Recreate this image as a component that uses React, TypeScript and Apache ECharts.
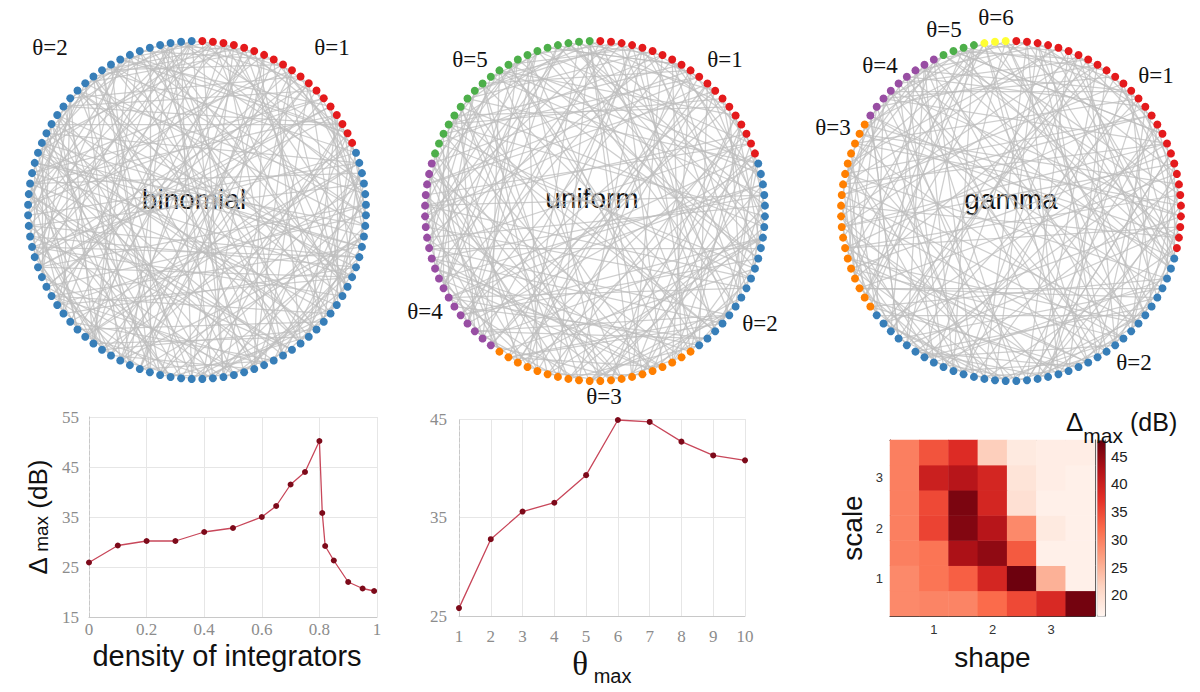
import React, { useEffect, useRef } from 'react';
import * as echarts from 'echarts';

// ---------------- data ----------------
const NODE_COUNT = 100;
const groupColors: Record<number, string> = {
  1: '#e41a1c', 2: '#377eb8', 3: '#ff7f00', 4: '#984ea3', 5: '#4daf4a', 6: '#ffff33',
};
// [theta group, node count], clockwise starting at the top of each circle
const binomialGroups = [[1, 19], [2, 81]];
const uniformGroups = [[1, 20], [2, 20], [3, 20], [4, 20], [5, 20]];
const gammaGroups = [[1, 29], [2, 36], [3, 19], [4, 9], [5, 4], [6, 3]];

// links as flat pairs of node positions (clockwise from top)
const binomialEdges = [
  0,47, 1,63, 2,28, 3,81, 4,55, 5,36, 6,72, 7,19, 8,90, 9,44, 10,67, 11,33, 12,85, 13,58, 14,26, 15,77, 16,49, 17,92, 18,61, 19,38,
  20,74, 21,53, 22,96, 23,41, 24,69, 25,12, 26,88, 27,57, 28,79, 29,45, 30,64, 31,87, 32,3, 33,71, 34,50, 35,94, 36,18, 37,82, 38,60, 39,7,
  40,76, 41,95, 42,21, 43,66, 44,89, 45,30, 46,73, 47,9, 48,84, 49,35, 50,98, 51,16, 52,78, 53,6, 54,91, 55,27, 56,83, 57,2, 58,70, 59,37,
  60,93, 61,11, 62,80, 63,42, 64,97, 65,24, 66,5, 67,48, 68,86, 69,31, 70,14, 71,99, 72,40, 73,22, 74,59, 75,8, 76,52, 77,34, 78,13, 79,62,
  80,1, 81,46, 82,20, 83,68, 84,29, 85,54, 86,10, 87,39, 88,75, 89,4, 90,51, 91,25, 92,65, 93,17, 94,43, 95,0, 96,32, 97,56, 98,23, 99,60,
  0,22, 3,50, 5,88, 8,33, 11,59, 14,92, 17,44, 20,61, 23,87, 26,48, 29,73, 32,95, 35,66, 38,15, 41,80, 44,6, 47,71, 50,27, 53,90, 56,12,
  59,84, 62,36, 65,99, 68,45, 71,19, 74,93, 77,58, 80,28, 83,49, 86,64, 89,38, 92,70, 95,54, 98,76, 2,41, 9,67, 16,83, 24,52, 31,78, 39,96,
  46,89, 55,9, 63,20, 72,30, 79,43, 88,57, 97,69, 4,34, 13,75, 21,47, 37,91, 51,81, 58,4, 67,25, 76,42, 85,16, 94,60, 7,55, 18,98, 28,66,
  43,11, 60,86, 70,2, 82,53, 91,32, 99,74, 34,15, 48,97, 57,18, 73,1,
  0,9, 2,13, 4,17, 6,11, 8,21, 10,24, 12,19, 14,31, 16,27, 18,25, 20,33, 22,35, 24,30, 26,39, 28,42, 30,37, 32,46, 34,41, 36,49, 38,52,
  40,47, 42,55, 44,58, 46,53, 48,61, 50,57, 52,66, 54,63, 56,69, 58,65, 60,74, 62,71, 64,77, 66,73, 68,81, 70,79, 72,85, 74,83, 76,89, 78,87,
  80,93, 82,91, 84,97, 86,95, 88,99, 90,3, 92,1, 94,7, 96,5, 98,11, 1,36, 5,62, 9,78, 15,69, 19,90, 25,93, 27,81, 33,87, 39,84, 45,96,
  49,6, 53,17, 59,22, 61,3, 65,31, 69,14, 75,40, 79,26, 83,30, 87,50, 93,44, 97,41, 11,70, 21,77, 35,80, 47,99, 57,8, 71,29, 81,37, 89,56,
];
const uniformEdges = [
  3,58, 7,41, 12,77, 15,90, 19,52, 22,66, 25,8, 28,71, 31,94, 34,47, 37,83, 40,16, 43,69, 46,99, 49,24, 52,85, 55,11, 58,36, 61,92, 64,29,
  67,5, 70,44, 73,97, 76,18, 79,53, 82,31, 85,62, 88,9, 91,40, 94,73, 97,26, 0,63, 2,35, 5,86, 9,57, 13,30, 17,75, 21,98, 26,50, 30,81,
  33,14, 38,65, 42,93, 45,20, 48,79, 51,4, 54,88, 57,27, 60,13, 63,96, 66,39, 69,2, 72,48, 75,23, 78,59, 81,6, 84,37, 87,68, 90,21, 93,55,
  96,12, 99,45, 1,74, 4,28, 8,95, 11,60, 14,84, 18,42, 23,89, 27,64, 32,7, 36,70, 39,91, 44,17, 47,76, 50,33, 53,99, 56,19, 59,80, 62,38,
  65,1, 68,22, 71,87, 74,43, 77,10, 80,61, 83,25, 86,49, 89,3, 92,67, 95,34, 98,56, 6,46, 10,82, 16,54, 20,36, 24,72, 29,92, 35,58, 41,78,
  46,15, 55,81, 61,27, 67,94, 73,32, 79,9, 88,51, 94,18, 2,87, 11,39, 19,66, 28,97, 37,3, 44,86, 52,25, 60,90, 69,40, 76,56, 83,13, 90,47,
  97,71, 5,33, 14,62, 22,50, 31,75, 40,4, 49,93, 58,17, 66,83, 74,11, 82,44, 89,69, 96,30, 7,64, 26,85, 43,2, 63,20, 84,57, 12,48, 34,99,
  53,8, 71,35, 92,77,
  1,10, 3,16, 5,12, 7,22, 9,18, 11,26, 13,20, 15,28, 17,24, 19,34, 21,30, 23,36, 25,32, 27,42, 29,38, 31,44, 33,40, 35,50, 37,46, 39,52,
  41,48, 43,58, 45,54, 47,60, 49,56, 51,66, 53,62, 55,68, 57,64, 59,74, 61,70, 63,76, 65,72, 67,82, 69,78, 71,84, 73,80, 75,90, 77,86, 79,92,
  81,88, 83,98, 85,94, 87,0, 89,96, 91,4, 93,2, 95,8, 97,6, 99,14, 0,37, 4,61, 8,83, 16,45, 18,71, 24,97, 30,59, 36,88, 42,9, 48,15,
  54,27, 62,35, 68,44, 72,6, 78,52, 86,20, 94,63, 98,39, 10,57, 20,91, 32,66, 50,85, 56,3, 64,12, 70,23, 80,47, 90,29, 96,67,
];
const gammaEdges = [
  1,52, 4,77, 6,33, 9,68, 12,90, 15,41, 18,63, 21,99, 24,47, 27,82, 30,5, 33,58, 36,91, 39,14, 42,70, 45,23, 48,86, 51,2, 54,79, 57,31,
  60,96, 63,8, 66,44, 69,19, 72,55, 75,27, 78,93, 81,38, 84,61, 87,12, 90,49, 93,24, 96,72, 99,35, 0,66, 3,29, 7,88, 10,54, 13,81, 16,37,
  20,73, 23,95, 26,60, 29,11, 32,84, 35,50, 38,76, 41,3, 44,97, 47,21, 50,69, 53,16, 56,89, 59,34, 62,7, 65,43, 68,92, 71,26, 74,57, 77,18,
  80,46, 83,1, 86,64, 89,30, 92,53, 95,9, 98,78, 2,40, 5,62, 8,85, 11,46, 14,71, 17,94, 22,56, 25,83, 28,4, 31,65, 34,98, 37,20, 40,87,
  43,59, 46,13, 49,74, 52,28, 55,91, 58,39, 61,6, 64,80, 67,32, 70,97, 73,45, 76,15, 79,51, 82,22, 85,68, 88,36, 91,60, 94,17, 97,42, 19,48,
  27,93, 36,70, 45,1, 57,88, 63,25, 75,40, 86,10, 99,58, 12,34, 24,81, 33,67, 42,89, 54,6, 66,97, 78,31, 90,62, 3,57, 15,78, 30,92, 48,19,
  61,84, 73,8, 87,50, 9,44, 21,67, 39,95, 56,12, 69,38, 84,29, 96,55, 6,74, 18,86, 35,2, 51,63, 68,79,
  0,11, 2,15, 4,9, 6,19, 8,17, 10,23, 12,21, 14,27, 16,25, 18,31, 20,29, 22,35, 24,33, 26,39, 28,37, 30,43, 32,41, 34,47, 36,45, 38,51,
  40,49, 42,55, 44,53, 46,59, 48,57, 50,63, 52,61, 54,67, 56,65, 58,71, 60,69, 62,75, 64,73, 66,79, 68,77, 70,83, 72,81, 74,87, 76,85, 78,91,
  80,89, 82,95, 84,93, 86,99, 88,97, 90,3, 92,1, 94,7, 96,5, 98,13, 1,30, 5,48, 11,76, 17,58, 23,71, 29,94, 35,64, 41,92, 47,8, 53,85,
  59,20, 65,96, 71,42, 77,36, 83,52, 89,14, 95,66, 7,39, 13,60, 25,87, 37,99, 49,16, 61,32, 73,18, 79,4, 91,45, 97,28,
];

// density of integrators panel
const densityX = [0, 0.1, 0.2, 0.3, 0.4, 0.5, 0.6, 0.65, 0.7, 0.75, 0.8, 0.81, 0.82, 0.85, 0.9, 0.95, 0.99];
const densityDelta = [25.9, 29.3, 30.2, 30.2, 32.0, 32.8, 35.0, 37.2, 41.5, 44.0, 50.2, 35.8, 29.2, 26.3, 22.0, 20.7, 20.2];

// theta max panel
const thetaMaxX = [1, 2, 3, 4, 5, 6, 7, 8, 9, 10];
const thetaMaxDelta = [25.8, 32.8, 35.6, 36.5, 39.3, 44.9, 44.7, 42.7, 41.3, 40.8];

// gamma heatmap (rows: scale from bottom, columns: shape)
const shapeCats = ['0.5', '1', '1.5', '2', '2.5', '3', '3.5'];
const scaleCats = ['0.5', '1', '1.5', '2', '2.5', '3', '3.5'];
const heatRows = [
  [29, 29.5, 29.5, 32, 35, 38.5, 47],
  [29, 31, 33, 39, 47.5, 25, 17],
  [30, 31, 43, 45, 33.5, 17, 17],
  [30, 35.5, 46, 42, 29, 18, 17],
  [30, 35, 46.5, 39, 19.5, 17, 17],
  [30, 40, 42, 39, 19, 17.5, 17],
  [30, 34, 38, 22, 18, 17.5, 17.5],
];
const colorbarMin = 16.2;
const colorbarMax = 47.9;
const redsScale = ['#fff5f0', '#fdd4c2', '#fca082', '#fb6a4a', '#e32f27', '#b11218', '#67000d'];

// ---------------- helpers ----------------
function buildGraph(groups: number[][], edges: number[]) {
  const seq: number[] = [];
  groups.forEach(([g, n]) => { for (let j = 0; j < n; j++) seq.push(g); });
  // ECharts' circular layout starts at 3 o'clock; position 0 (top) is node index 75
  const toIndex = (k: number) => (k + 75) % NODE_COUNT;
  const nodes: any[] = [];
  for (let i = 0; i < NODE_COUNT; i++) {
    const k = (i + 25) % NODE_COUNT;
    nodes.push({ name: 'n' + i, itemStyle: { color: groupColors[seq[k]] } });
  }
  const links: any[] = [];
  for (let e = 0; e < edges.length; e += 2) {
    links.push({ source: 'n' + toIndex(edges[e]), target: 'n' + toIndex(edges[e + 1]) });
  }
  return { nodes, links };
}

const SANS = '"Liberation Sans", Arial, Helvetica, sans-serif';
const SERIF = '"Liberation Serif", "Times New Roman", serif';

function graphSeries(groups: number[][], edges: number[], box: { left: number; top: number; size: number }) {
  const { nodes, links } = buildGraph(groups, edges);
  return {
    type: 'graph',
    layout: 'circular',
    left: box.left, top: box.top, width: box.size, height: box.size,
    roam: false, silent: true,
    symbol: 'circle', symbolSize: 8,
    data: nodes, links,
    label: { show: false },
    lineStyle: { color: '#bdbdbd', width: 1.25, opacity: 0.75, curveness: 0 },
    emphasis: { disabled: true },
  };
}

const textEl = (text: string, x: number, y: number, size: number, family: string) => ({
  type: 'text', x, y, silent: true,
  style: { text, fontSize: size, fontFamily: family, fill: '#111', align: 'center', verticalAlign: 'middle' },
});

export default function App() {
  const ref = useRef<HTMLDivElement>(null);
  useEffect(() => {
    document.body.style.margin = '0';
    const chart = echarts.init(ref.current!, null, { renderer: 'svg' });

    const heatData: number[][] = [];
    heatRows.forEach((row, yi) => row.forEach((v, xi) => heatData.push([xi, yi, v])));

    const tickLabel = { fontFamily: SERIF, fontSize: 17, color: '#8c8c8c' };
    const integerOnly = (v: string) => (['1', '2', '3'].includes(v) ? v : '');

    const option: any = {
      animation: false,
      backgroundColor: '#ffffff',
      title: [{
        text: '{a|Δ}{b|max}{c| (dB)}{z| }',
        left: 1066, top: 409, padding: 0,
        textStyle: {
          fontWeight: 'normal',
          rich: {
            a: { fontFamily: SANS, fontSize: 26, lineHeight: 26, verticalAlign: 'top', color: '#111', fontWeight: 'normal' },
            b: { fontFamily: SANS, fontSize: 21, lineHeight: 21, verticalAlign: 'bottom', color: '#111', fontWeight: 'normal' },
            c: { fontFamily: SANS, fontSize: 25, lineHeight: 26, verticalAlign: 'top', color: '#111', fontWeight: 'normal' },
            z: { fontSize: 1, lineHeight: 37 },
          },
        },
      }],
      graphic: [
        textEl('binomial', 194, 199, 28, SANS),
        textEl('uniform', 592, 198, 28, SANS),
        textEl('gamma', 1011, 199, 28, SANS),
        textEl('θ=2', 50, 47, 23, SERIF),
        textEl('θ=1', 332, 47, 23, SERIF),
        textEl('θ=5', 470, 59, 23, SERIF),
        textEl('θ=1', 725, 59, 23, SERIF),
        textEl('θ=4', 425, 311, 23, SERIF),
        textEl('θ=2', 760, 323, 23, SERIF),
        textEl('θ=3', 604, 396, 23, SERIF),
        textEl('θ=6', 996, 17, 23, SERIF),
        textEl('θ=5', 944, 29, 23, SERIF),
        textEl('θ=4', 880, 65, 23, SERIF),
        textEl('θ=3', 833, 127, 23, SERIF),
        textEl('θ=1', 1156, 75, 23, SERIF),
        textEl('θ=2', 1134, 362, 23, SERIF),
      ],
      grid: [
        { left: 89, top: 417, width: 288, height: 200 },
        { left: 459, top: 419, width: 286, height: 197 },
        { left: 890, top: 440, width: 205, height: 176 },
      ],
      xAxis: [
        {
          gridIndex: 0, type: 'value', min: 0, max: 1, interval: 0.2,
          axisLine: { lineStyle: { color: '#c8c8c8' } }, axisTick: { show: false },
          axisLabel: { ...tickLabel, margin: 4 },
          splitLine: { lineStyle: { color: '#e6e6e6' } },
          name: 'density of integrators', nameLocation: 'middle', nameGap: 24,
          nameTextStyle: { fontFamily: SANS, fontSize: 29, color: '#111', padding: [0, 12, 0, 0] },
        },
        {
          gridIndex: 1, type: 'value', min: 1, max: 10, interval: 1,
          axisLine: { lineStyle: { color: '#c8c8c8' } }, axisTick: { show: false },
          axisLabel: { ...tickLabel, margin: 12 },
          splitLine: { lineStyle: { color: '#e6e6e6' } },
          name: '{t|θ}{s| max}{z| }', nameLocation: 'middle', nameGap: 31,
          nameTextStyle: {
            rich: {
              t: { fontFamily: SERIF, fontSize: 33, lineHeight: 32, verticalAlign: 'top', color: '#111' },
              s: { fontFamily: SANS, fontSize: 20, lineHeight: 20, verticalAlign: 'bottom', color: '#111' },
              z: { fontSize: 1, lineHeight: 39 },
            },
          },
        },
        {
          gridIndex: 2, type: 'category', data: shapeCats,
          axisLine: { lineStyle: { color: '#333', width: 1 } },
          axisTick: { show: true, inside: true, length: 3, alignWithLabel: true, interval: (i: number) => i % 2 === 1, lineStyle: { color: '#333' } },
          axisLabel: { interval: 0, formatter: integerOnly, fontFamily: SANS, fontSize: 13, color: '#333', margin: 7 },
          splitLine: { show: false },
          name: 'shape', nameLocation: 'middle', nameGap: 27,
          nameTextStyle: { fontFamily: SANS, fontSize: 28, color: '#111' },
        },
        {
          gridIndex: 2, type: 'category', data: shapeCats, position: 'top',
          axisLine: { lineStyle: { color: '#333', width: 1 } }, axisTick: { show: false }, axisLabel: { show: false },
        },
      ],
      yAxis: [
        {
          gridIndex: 0, type: 'value', min: 15, max: 55, interval: 5,
          axisLine: { show: true, lineStyle: { color: '#c8c8c8', type: 'dashed' } }, axisTick: { show: false },
          axisLabel: { ...tickLabel, margin: 10, formatter: (v: number) => ((v - 15) % 10 === 0 ? String(v) : '') },
          splitLine: { show: true, lineStyle: { color: ['#e6e6e6', 'rgba(0,0,0,0)'] } },
          name: '{a|Δ}{b| max}{a| (dB)}', nameLocation: 'middle', nameGap: 38,
          nameTextStyle: {
            rich: {
              a: { fontFamily: SANS, fontSize: 26, lineHeight: 26, verticalAlign: 'bottom', color: '#111' },
              b: { fontFamily: SANS, fontSize: 19, lineHeight: 19, verticalAlign: 'bottom', color: '#111' },
            },
          },
        },
        {
          gridIndex: 1, type: 'value', min: 25, max: 45, interval: 5,
          axisLine: { show: true, lineStyle: { color: '#c8c8c8', type: 'dashed' } }, axisTick: { show: false },
          axisLabel: { ...tickLabel, margin: 12, formatter: (v: number) => ((v - 25) % 10 === 0 ? String(v) : '') },
          splitLine: { show: true, lineStyle: { color: ['#e6e6e6', 'rgba(0,0,0,0)'] } },
        },
        {
          gridIndex: 2, type: 'category', data: scaleCats,
          axisLine: { lineStyle: { color: '#333', width: 1 } },
          axisTick: { show: true, inside: true, length: 3, alignWithLabel: true, interval: (i: number) => i % 2 === 1, lineStyle: { color: '#333' } },
          axisLabel: { interval: 0, formatter: integerOnly, fontFamily: SANS, fontSize: 13, color: '#333', margin: 7 },
          splitLine: { show: false },
          name: 'scale', nameLocation: 'middle', nameGap: 24,
          nameTextStyle: { fontFamily: SANS, fontSize: 28, color: '#111' },
        },
        {
          gridIndex: 2, type: 'value', position: 'right', offset: 10,
          min: colorbarMin, max: colorbarMax,
          axisLine: { show: true, lineStyle: { color: '#555', width: 0.8 } },
          axisTick: { show: true, inside: true, length: 2, lineStyle: { color: '#555' } },
          axisLabel: { showMinLabel: false, showMaxLabel: false, fontFamily: SANS, fontSize: 15, color: '#222', margin: 6 },
          splitLine: { show: false },
        },
        {
          gridIndex: 2, type: 'category', data: scaleCats, position: 'right',
          axisLine: { show: true, lineStyle: { color: '#333', width: 1 } }, axisTick: { show: false }, axisLabel: { show: false },
        },
      ],
      visualMap: {
        type: 'continuous', seriesIndex: 5, dimension: 2,
        min: colorbarMin, max: colorbarMax, calculable: false, realtime: false,
        orient: 'vertical', left: 1097, top: 440, itemWidth: 8, itemHeight: 176,
        padding: 0, text: null, showLabel: false,
        inRange: { color: redsScale },
        borderColor: '#666', borderWidth: 0.5,
      },
      series: [
        graphSeries(binomialGroups, binomialEdges, { left: 28, top: 41, size: 338 }),
        graphSeries(uniformGroups, uniformEdges, { left: 425, top: 41, size: 340 }),
        graphSeries(gammaGroups, gammaEdges, { left: 841, top: 41, size: 340 }),
        {
          type: 'line', xAxisIndex: 0, yAxisIndex: 0,
          data: densityX.map((x, i) => [x, densityDelta[i]]),
          symbol: 'circle', symbolSize: 6, showSymbol: true,
          lineStyle: { color: '#c8475a', width: 1.3 },
          itemStyle: { color: '#7d0a1a' },
          silent: true,
        },
        {
          type: 'line', xAxisIndex: 1, yAxisIndex: 1,
          data: thetaMaxX.map((x, i) => [x, thetaMaxDelta[i]]),
          symbol: 'circle', symbolSize: 6, showSymbol: true,
          lineStyle: { color: '#c8475a', width: 1.3 },
          itemStyle: { color: '#7d0a1a' },
          silent: true,
        },
        {
          type: 'heatmap', xAxisIndex: 2, yAxisIndex: 2,
          data: heatData, silent: true,
          emphasis: { disabled: true },
        },
      ],
    };
    chart.setOption(option);
    return () => chart.dispose();
  }, []);
  return <div ref={ref} style={{ position: 'fixed', left: 0, top: 0, width: 1200, height: 692 }} />;
}
